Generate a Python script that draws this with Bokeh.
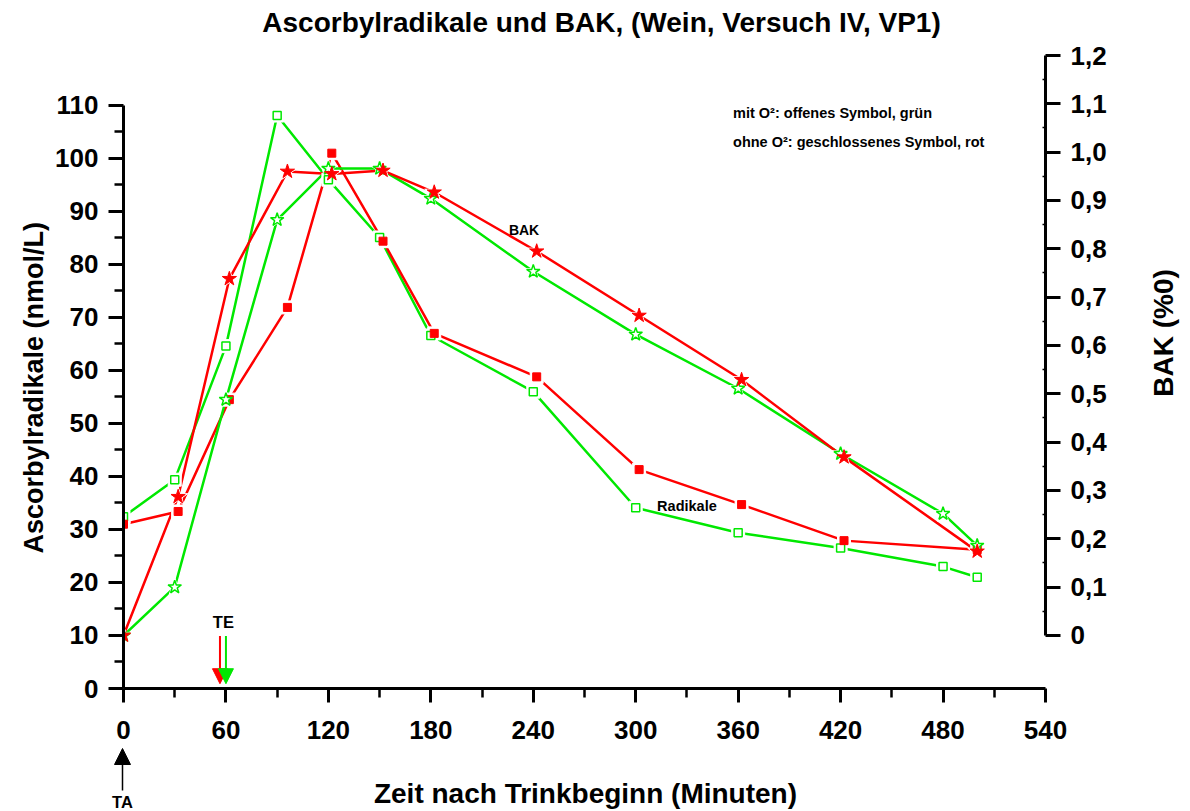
import math
from bokeh.plotting import figure
from bokeh.layouts import row, column
from bokeh.models import (Range1d, LinearAxis, FixedTicker, CustomJSTickFormatter,
                          Label, Arrow, NormalHead)
from bokeh.embed import file_html
from bokeh.resources import INLINE

# ---------------- data ----------------
# ohne O2 (red, closed symbols)
t_red = [0, 32, 62, 96, 122, 152, 182, 242, 302, 362, 422, 500]
rad_red = [31.0, 33.4, 54.5, 71.9, 101.0, 84.4, 67.0, 58.8, 41.3, 34.7, 27.9, 26.2]
bak_red = [0.0, 0.287, 0.738, 0.960, 0.955, 0.962, 0.917, 0.795, 0.662, 0.529, 0.369, 0.174]

# mit O2 (green, open symbols)
t_green = [0, 30, 60, 90, 120, 150, 180, 240, 300, 360, 420, 480, 500]
rad_green = [32.4, 39.4, 64.6, 108.1, 96.0, 85.1, 66.6, 56.0, 34.1, 29.4, 26.5, 23.0, 21.0]
bak_green = [0.0, 0.100, 0.488, 0.860, 0.966, 0.966, 0.904, 0.753, 0.623, 0.511, 0.376, 0.252, 0.186]

x_ticks = [0, 60, 120, 180, 240, 300, 360, 420, 480, 540]
x_minor = [30, 90, 150, 210, 270, 330, 390, 450, 510]
y_ticks = [0, 10, 20, 30, 40, 50, 60, 70, 80, 90, 100, 110]
y_minor = [5, 15, 25, 35, 45, 55, 65, 75, 85, 95, 105]
bak_ticks = [0, 0.1, 0.2, 0.3, 0.4, 0.5, 0.6, 0.7, 0.8, 0.9, 1.0, 1.1, 1.2]
bak_minor = [0.05, 0.15, 0.25, 0.35, 0.45, 0.55, 0.65, 0.75, 0.85, 0.95, 1.05, 1.15]

te_red = 56.5     # Trinkende (red series)
te_green = 60.0   # Trinkende (green series)
ta_time = 0       # Trinkanfang

title_text = "Ascorbylradikale und BAK, (Wein, Versuch IV, VP1)"
x_title = "Zeit nach Trinkbeginn (Minuten)"
y_title = "Ascorbylradikale (nmol/L)"
y2_title = "BAK (%0)"
note1 = "mit O²: offenes Symbol, grün"
note2 = "ohne O²: geschlossenes Symbol, rot"

RED = "#FF0000"
GREEN = "#00E800"
FONT = "Liberation Sans"
FS = "26px"

# layout geometry (pixels)
W_LEFT, W_RIGHT = 52, 49
H_TOP, H_MID, H_BOTTOM = 41, 705, 65
PX_PER_MIN = 923 / 540

# ---------------- main figure ----------------
p = figure(width=1190 - W_LEFT - W_RIGHT, height=H_MID, output_backend="svg",
           toolbar_location=None,
           x_range=Range1d(0, 540), y_range=Range1d(0, 119.43),
           min_border_left=70, min_border_right=96, min_border_top=14,
           min_border_bottom=58, x_axis_location=None, y_axis_location=None)
p.extra_y_ranges = {"bak": Range1d(-0.1097, 1.2)}
p.outline_line_color = None
p.grid.visible = False
p.background_fill_color = "white"
p.border_fill_color = "white"


def style_axis(ax):
    ax.axis_line_width = 3
    ax.major_tick_line_width = 3
    ax.minor_tick_line_width = 2.5
    ax.major_tick_in = 0
    ax.minor_tick_in = 0
    ax.major_label_text_font = FONT
    ax.major_label_text_font_style = "bold"
    ax.major_label_text_font_size = FS
    ax.major_label_text_color = "black"


xaxis = LinearAxis(ticker=FixedTicker(ticks=x_ticks, minor_ticks=x_minor), bounds=(0, 540))
style_axis(xaxis)
xaxis.major_tick_out = 14
xaxis.minor_tick_out = 9
xaxis.major_label_standoff = 18
p.add_layout(xaxis, "below")

yaxis = LinearAxis(ticker=FixedTicker(ticks=y_ticks, minor_ticks=y_minor), bounds=(0, 110))
style_axis(yaxis)
yaxis.major_tick_out = 15
yaxis.minor_tick_out = 9
yaxis.major_label_standoff = 10
p.add_layout(yaxis, "left")

raxis = LinearAxis(y_range_name="bak",
                   ticker=FixedTicker(ticks=bak_ticks, minor_ticks=bak_minor),
                   bounds=(0, 1.2),
                   formatter=CustomJSTickFormatter(
                       code="return Math.abs(tick) < 1e-9 ? '0' : tick.toFixed(1).replace('.', ',');"))
style_axis(raxis)
raxis.major_tick_out = 15
raxis.minor_tick_out = 0
raxis.minor_tick_in = 3
raxis.minor_tick_line_width = 1.5
raxis.major_label_standoff = 10
p.add_layout(raxis, "right")

# lines
LW = 2.5
p.line(t_green, rad_green, line_color=GREEN, line_width=LW)
p.line(t_red, rad_red, line_color=RED, line_width=LW)
p.line(t_green, bak_green, line_color=GREEN, line_width=LW, y_range_name="bak")
p.line(t_red, bak_red, line_color=RED, line_width=LW, y_range_name="bak")

# white halos (gaps in the lines around the symbols)
p.scatter(t_green, rad_green, marker="square", size=13, fill_color="white", line_color="white")
p.scatter(t_red, rad_red, marker="square", size=13, fill_color="white", line_color="white")
p.scatter(t_green, bak_green, marker="star", size=19, fill_color="white", line_color="white",
          y_range_name="bak")
p.scatter(t_red, bak_red, marker="star", size=20, fill_color="white", line_color="white",
          y_range_name="bak")

# symbols
p.scatter(t_green, rad_green, marker="square", size=8, fill_color="white",
          line_color=GREEN, line_width=1.5)
p.scatter(t_red, rad_red, marker="square", size=8, fill_color=RED, line_color=RED)
p.scatter(t_green, bak_green, marker="star", size=14, fill_color="white",
          line_color=GREEN, line_width=1.5, y_range_name="bak")
p.scatter(t_red, bak_red, marker="star", size=15, fill_color=RED, line_color=RED,
          y_range_name="bak")


def lab(fig, x, y, text, size, align="center", angle=0.0):
    fig.add_layout(Label(x=x, y=y, text=text, text_font=FONT, text_font_style="bold",
                         text_font_size=size, text_align=align, text_baseline="middle",
                         text_color="black", angle=angle))


lab(p, 357.0, 108.5, note1, "14.5px", align="left")
lab(p, 357.0, 103.2, note2, "14.5px", align="left")
lab(p, 234.6, 86.6, "BAK", "14px")
lab(p, 330.0, 34.5, "Radikale", "14.5px")
lab(p, 58.5, 12.6, "TE", "16.5px")

p.add_layout(Arrow(end=NormalHead(size=15, fill_color=RED, line_color=RED, line_width=1),
                   x_start=te_red, y_start=9.9, x_end=te_red, y_end=0.9,
                   line_color=RED, line_width=2))
p.add_layout(Arrow(end=NormalHead(size=15, fill_color=GREEN, line_color=GREEN, line_width=1),
                   x_start=te_green, y_start=9.9, x_end=te_green, y_end=0.9,
                   line_color=GREEN, line_width=2))


def blank(width, height, x_range, y_range):
    f = figure(width=width, height=height, output_backend="svg", toolbar_location=None,
               x_range=x_range, y_range=y_range, x_axis_location=None, y_axis_location=None,
               min_border=0)
    f.outline_line_color = None
    f.grid.visible = False
    f.background_fill_color = "white"
    f.border_fill_color = "white"
    return f


# ---------------- top strip: chart title ----------------
top = blank(1190, H_TOP, Range1d(0, 1190), Range1d(H_TOP, 0))
lab(top, 601, 22, title_text, "28px")

# ---------------- left strip: y axis title ----------------
left = blank(W_LEFT, H_MID, Range1d(0, W_LEFT), Range1d(H_TOP + H_MID, H_TOP))
lab(left, 33, 411, y_title, "27px", angle=math.pi / 2)

# ---------------- right strip: secondary y axis title ----------------
right = blank(W_RIGHT, H_MID, Range1d(1190 - W_RIGHT, 1190), Range1d(H_TOP + H_MID, H_TOP))
lab(right, 1163, 350, y2_title, "28px", angle=math.pi / 2)

# ---------------- bottom strip: TA marker and x axis title ----------------
y0 = H_TOP + H_MID
bottom = blank(1190, H_BOTTOM,
               Range1d(-122 / PX_PER_MIN, (1190 - 122) / PX_PER_MIN),
               Range1d(y0 + H_BOTTOM, y0))
bottom.add_layout(Arrow(end=NormalHead(size=16, fill_color="black", line_color="black",
                                       line_width=1),
                        x_start=ta_time, y_start=790, x_end=ta_time, y_end=748,
                        line_color="black", line_width=1.5))
lab(bottom, ta_time, 801, "TA", "16.5px")
lab(bottom, (585 - 122) / PX_PER_MIN, 793, x_title, "28px")

layout = column(top, row(left, p, right), bottom)
open("out.html", "w").write(file_html(layout, INLINE))
